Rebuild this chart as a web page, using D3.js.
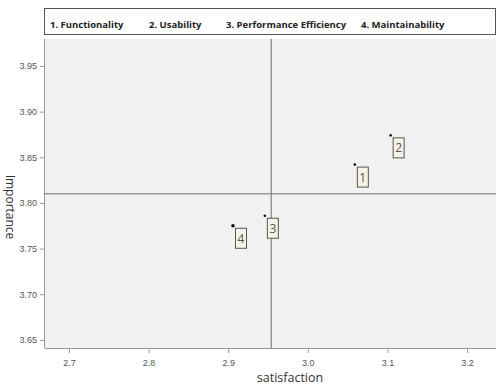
<!DOCTYPE html>
<meta charset="utf-8">
<style>
body { margin: 0; background: #fff; font-family: 'Open Sans', 'Noto Sans', sans-serif; }
.tick text { fill: #555; font-size: 9px; }
.domain, .tick line { stroke: #9a9a9a; }
</style>
<body>
<script src="https://d3js.org/d3.v7.min.js"></script>
<script>
var width = 496,
    height = 387;

// quality characteristics
var ids = [1, 2, 3, 4];
var names = ["Functionality", "Usability", "Performance Efficiency", "Maintainability"];
var satisfaction = [3.059, 3.104, 2.946, 2.906];
var importance = [3.842, 3.874, 3.786, 3.775];
var meanSat = 2.954,
    meanImp = 3.810;
var xTicks = [2.7, 2.8, 2.9, 3.0, 3.1, 3.2];
var yTicks = [3.65, 3.70, 3.75, 3.80, 3.85, 3.90, 3.95];

// plot area (named to avoid clashing with window.top)
var pLeft = 44, pTop = 39, pRight = 497, pBottom = 348;

var x = d3.scaleLinear().domain([2.6686, 3.2376]).range([pLeft, pRight]);
var y = d3.scaleLinear().domain([3.6412, 3.9795]).range([pBottom, pTop]);

var svg = d3.select("body").append("svg")
    .attr("width", width)
    .attr("height", height);

// legend box
var legend = svg.append("g");
legend.append("rect")
    .attr("x", 44.5).attr("y", 8.5)
    .attr("width", 451).attr("height", 26)
    .attr("fill", "#fff").attr("stroke", "#555");
var legendX = [50, 149, 226, 361];
legend.selectAll("text")
  .data(ids)
  .join("text")
    .attr("x", (d, i) => legendX[i])
    .attr("y", 28)
    .attr("font-size", "9.5px")
    .attr("font-weight", "bold")
    .attr("fill", "#222")
    .text((d, i) => d + ". " + names[i]);

// plot background
svg.append("rect")
    .attr("x", pLeft).attr("y", pTop)
    .attr("width", pRight - pLeft).attr("height", pBottom - pTop)
    .attr("fill", "#f1f1f1");

svg.append("g")
    .attr("transform", "translate(0," + pBottom + ")")
    .call(d3.axisBottom(x).tickValues(xTicks).tickFormat(d3.format(".1f")).tickSize(5).tickSizeOuter(0))
    .call(g => g.selectAll(".tick text").attr("dy", "1.1em"));

svg.append("g")
    .attr("transform", "translate(" + pLeft + ",0)")
    .call(d3.axisLeft(y).tickValues(yTicks).tickFormat(d3.format(".2f")).tickSize(4).tickSizeOuter(0))
    .call(g => g.select(".domain").attr("d", "M0.5," + pTop + "V" + pBottom));

// mean lines
svg.append("line")
    .attr("x1", x(meanSat)).attr("x2", x(meanSat))
    .attr("y1", pTop).attr("y2", pBottom)
    .attr("stroke", "#6e6e6e");
svg.append("line")
    .attr("x1", pLeft).attr("x2", pRight)
    .attr("y1", y(meanImp)).attr("y2", y(meanImp))
    .attr("stroke", "#6e6e6e");

// points + labels
var pts = svg.append("g").selectAll("g")
  .data(ids)
  .join("g")
    .attr("transform", (d, i) => "translate(" + x(satisfaction[i]) + "," + y(importance[i]) + ")");
pts.append("circle")
    .attr("r", (d, i) => i == 3 ? 1.8 : 1.3)
    .attr("fill", "#111");
pts.append("rect")
    .attr("x", 2.5).attr("y", 2.5)
    .attr("width", 11).attr("height", 20)
    .attr("fill", "#f5f2e6")
    .attr("stroke", "#555");
pts.append("text")
    .attr("x", 8).attr("y", 17)
    .attr("text-anchor", "middle")
    .attr("font-size", "12px")
    .attr("fill", "#555")
    .text(d => d);

// axis titles
svg.append("text")
    .attr("x", 290).attr("y", 382)
    .attr("text-anchor", "middle")
    .attr("font-size", "12.5px")
    .attr("fill", "#333")
    .text("satisfaction");
svg.append("text")
    .attr("transform", "translate(6,207) rotate(90)")
    .attr("text-anchor", "middle")
    .attr("font-size", "12px")
    .attr("fill", "#333")
    .text("Importance");
</script>
